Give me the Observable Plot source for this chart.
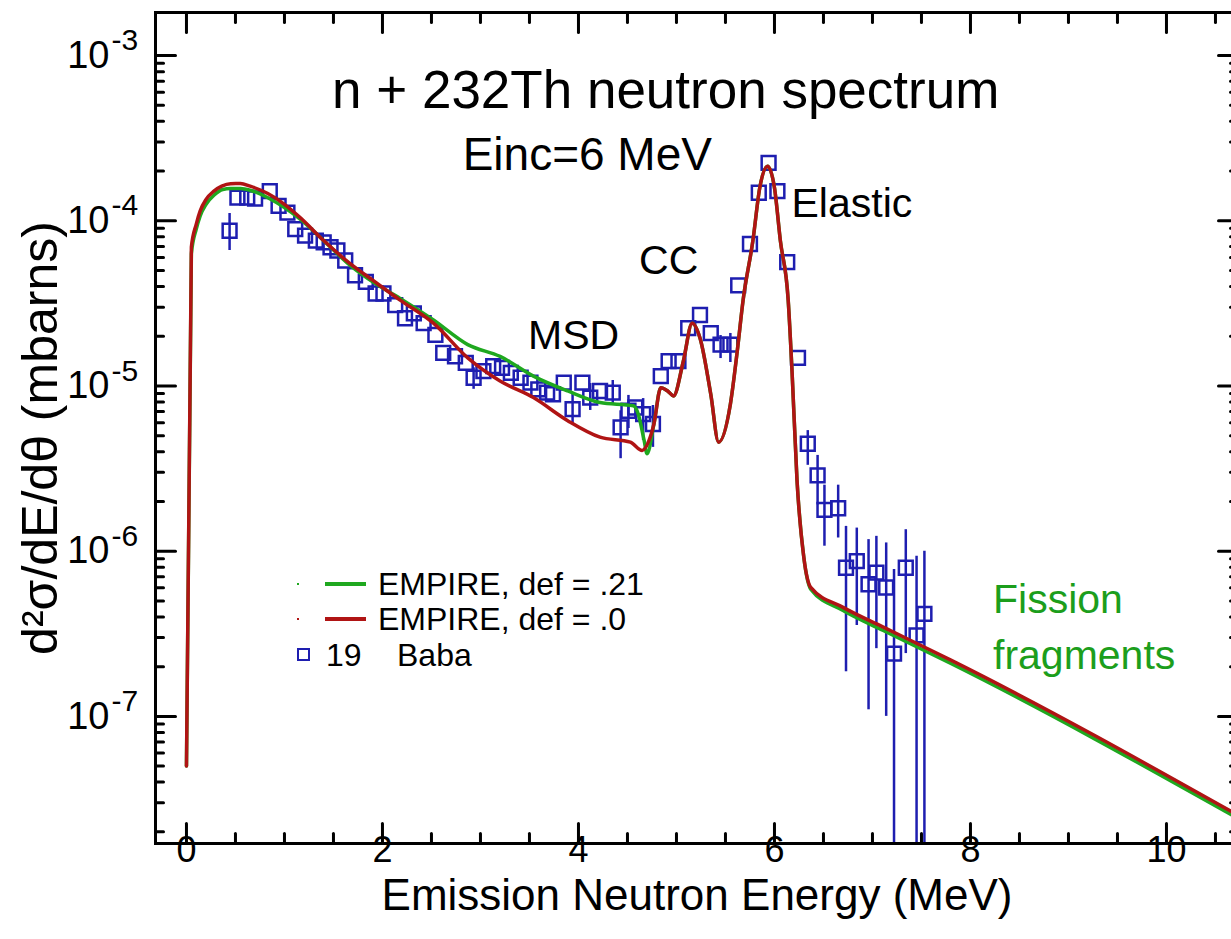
<!DOCTYPE html>
<html><head><meta charset="utf-8">
<script src="https://cdn.jsdelivr.net/npm/d3@7"></script>
<script src="https://cdn.jsdelivr.net/npm/@observablehq/plot@0.6"></script>
<style>
html,body{margin:0;padding:0;background:#fff;overflow:hidden;}
#wrap{position:relative;width:1240px;height:939px;font-family:"Liberation Sans",Arial,sans-serif;}
.lg{position:absolute;font-size:32px;color:#000;white-space:nowrap;line-height:1;}
</style></head><body><div id="wrap"></div>
<script>
// ---- data ----
const green_x = [0,0.05,0.10,0.14,0.20,0.28,0.37,0.45,0.55,0.65,0.83,1.00,1.16,1.40,1.67,1.90,2.18,2.52,2.87,3.20,3.54,3.89,4.22,4.56,4.61,4.67,4.70,4.77,4.84,4.91,4.97,5.07,5.16,5.24,5.35,5.43,5.55,5.62,5.68,5.78,5.85,5.93,6.00,6.06,6.14,6.18,6.23,6.30,6.37,6.70,7.11,7.80,10.735];
const green_y = [5.0e-8,6.31e-5,8.91e-5,1.072e-4,1.259e-4,1.429e-4,1.549e-4,1.567e-4,1.567e-4,1.531e-4,1.380e-4,1.202e-4,1.023e-4,7.59e-5,5.37e-5,4.27e-5,3.39e-5,2.51e-5,1.78e-5,1.51e-5,1.148e-5,9.33e-6,7.94e-6,7.59e-6,6.76e-6,4.68e-6,3.89e-6,5.89e-6,9.77e-6,9.33e-6,8.71e-6,1.413e-5,2.40e-5,1.95e-5,8.91e-6,4.57e-6,7.76e-6,1.62e-5,3.31e-5,7.59e-5,1.585e-4,2.14e-4,1.585e-4,7.59e-5,3.31e-5,1.202e-5,2.69e-6,9.12e-7,5.89e-7,4.37e-7,3.31e-7,2.09e-7,2.40e-8];
const red_x = [0,0.05,0.10,0.14,0.20,0.28,0.36,0.45,0.55,0.65,0.83,1.00,1.16,1.40,1.67,1.90,2.18,2.52,2.87,3.20,3.54,3.89,4.22,4.53,4.65,4.72,4.77,4.84,4.91,4.97,5.07,5.16,5.24,5.35,5.43,5.55,5.62,5.68,5.78,5.85,5.93,6.00,6.06,6.14,6.18,6.23,6.30,6.37,6.70,7.11,7.80,10.735];
const red_y = [5.0e-8,6.92e-5,9.55e-5,1.148e-4,1.349e-4,1.514e-4,1.622e-4,1.679e-4,1.68e-4,1.62e-4,1.462e-4,1.259e-4,1.047e-4,7.59e-5,5.50e-5,4.37e-5,3.31e-5,2.40e-5,1.479e-5,1.072e-5,8.51e-6,6.17e-6,4.90e-6,4.57e-6,4.07e-6,4.68e-6,5.89e-6,9.77e-6,9.33e-6,8.71e-6,1.413e-5,2.40e-5,1.95e-5,8.91e-6,4.57e-6,7.76e-6,1.62e-5,3.31e-5,7.59e-5,1.585e-4,2.14e-4,1.585e-4,7.59e-5,3.31e-5,1.202e-5,2.69e-6,9.12e-7,6.03e-7,4.57e-7,3.47e-7,2.19e-7,2.51e-8];
const baba_x = [0.44,0.52,0.62,0.70,0.85,0.94,1.03,1.11,1.21,1.32,1.40,1.47,1.54,1.62,1.72,1.83,1.93,2.01,2.13,2.23,2.32,2.42,2.54,2.62,2.74,2.85,2.93,3.03,3.13,3.22,3.31,3.41,3.51,3.59,3.68,3.74,3.85,3.94,4.04,4.12,4.22,4.35,4.43,4.51,4.58,4.66,4.76,4.84,4.92,5.02,5.12,5.24,5.35,5.45,5.55,5.63,5.75,5.84,5.94,6.03,6.13,6.24,6.34,6.44,6.51,6.65,6.73,6.84,6.96,7.04,7.14,7.22,7.34,7.45,7.53];
const baba_y = [8.71e-5,1.380e-4,1.380e-4,1.365e-4,1.514e-4,1.230e-4,1.122e-4,8.91e-5,8.13e-5,7.59e-5,7.41e-5,6.92e-5,6.61e-5,5.75e-5,4.68e-5,4.27e-5,3.63e-5,3.63e-5,3.09e-5,2.57e-5,2.75e-5,2.40e-5,2.04e-5,1.585e-5,1.514e-5,1.380e-5,1.122e-5,1.230e-5,1.318e-5,1.288e-5,1.202e-5,1.122e-5,1.047e-5,9.55e-6,9.12e-6,8.91e-6,1.047e-5,7.24e-6,1.047e-5,8.51e-6,9.33e-6,9.12e-6,5.62e-6,7.08e-6,7.41e-6,6.76e-6,5.89e-6,1.148e-5,1.413e-5,1.413e-5,2.24e-5,2.69e-5,2.09e-5,1.778e-5,1.778e-5,4.07e-5,7.24e-5,1.479e-4,2.24e-4,1.514e-4,5.62e-5,1.479e-5,4.47e-6,2.88e-6,1.778e-6,1.820e-6,7.94e-7,8.71e-7,6.31e-7,7.41e-7,6.03e-7,2.40e-7,7.94e-7,3.09e-7,4.17e-7];
const baba_lo = [6.61e-5,null,null,null,null,null,null,null,null,null,null,null,null,null,null,null,null,null,null,null,null,null,null,null,null,null,9.55e-6,null,null,null,null,null,null,null,null,null,null,5.89e-6,null,7.11e-6,null,7.62e-6,3.63e-6,5.53e-6,null,4.68e-6,4.25e-6,null,null,null,null,null,null,1.466e-5,1.387e-5,null,null,null,null,null,null,null,3.31e-6,1.905e-6,1.072e-6,1.202e-6,1.862e-7,3.55e-7,1.096e-7,2.57e-7,1.0e-7,1e-9,2.40e-7,1e-9,1e-9];
const baba_hi = [1.107e-4,null,null,null,null,null,null,null,null,null,null,null,null,null,null,null,null,null,null,null,null,null,null,null,null,null,1.288e-5,null,null,null,null,null,null,null,null,null,null,8.91e-6,null,1.035e-5,null,1.08e-5,7.08e-6,8.77e-6,null,8.39e-6,7.62e-6,null,null,null,null,null,null,2.02e-5,2.08e-5,null,null,null,null,null,null,null,5.37e-6,3.80e-6,2.51e-6,2.51e-6,1.413e-6,1.380e-6,1.175e-6,1.230e-6,1.122e-6,7.76e-7,1.349e-6,9.33e-7,1.0e-6];
const x_ticks = [0,2,4,6,8,10];
const x_minor = [0.5,1,1.5,2.5,3,3.5,4.5,5,5.5,6.5,7,7.5,8.5,9,9.5,10.5];
const y_ticks = [1e-3,1e-4,1e-5,1e-6,1e-7];
const y_minor = [];
for (let e = -8; e <= -3; e++) for (let k = 2; k <= 9; k++) { const v = k * Math.pow(10, e); if (v > 1.7e-8 && v < 1.8e-3) y_minor.push(v); }

// ---- build tables ----
const greenRows = green_x.map((x, i) => ({x, y: green_y[i]}));
const redRows = red_x.map((x, i) => ({x, y: red_y[i]}));
const babaRows = baba_x.map((x, i) => ({x, y: baba_y[i], lo: baba_lo[i], hi: baba_hi[i]}));
const errRows = babaRows.filter(d => d.lo != null);

const BLUE = "#1e1eb0", GREEN = "#1fa81f", RED = "#b01414", FGREEN = "#1c9e1c";
const tickShape = {draw(c, l) { c.moveTo(0, 0); c.lineTo(0, -l); }};
const tk = (data, opts) => Plot.vector(data, {anchor: "start", shape: tickShape, stroke: "#000", strokeWidth: 3, ...opts});

const chart = Plot.plot({
  width: 1240, height: 939,
  marginTop: 12, marginBottom: 96, marginLeft: 155, marginRight: 2,
  style: {fontFamily: "'Liberation Sans', Arial, sans-serif", background: "#fff", color: "#000"},
  x: {domain: [-0.316, 10.735], axis: null},
  y: {type: "log", domain: [1.70e-8, 1.824e-3], axis: null},
  marks: [
    Plot.ruleX(errRows, {x: "x", y1: "lo", y2: "hi", stroke: BLUE, strokeWidth: 2.5, clip: true}),
    Plot.dot(babaRows, {x: "x", y: "y", symbol: "square", r: 7.8, stroke: BLUE, strokeWidth: 2.5, fill: "none"}),
    Plot.line(greenRows, {x: "x", y: "y", stroke: GREEN, strokeWidth: 3.5, curve: "monotone-x", clip: true}),
    Plot.line(redRows, {x: "x", y: "y", stroke: RED, strokeWidth: 3.5, curve: "monotone-x", clip: true}),
    Plot.frame({stroke: "#000", strokeWidth: 3}),
    tk(x_ticks, {x: d => d, frameAnchor: "bottom", length: 20, rotate: 0}),
    tk(x_minor, {x: d => d, frameAnchor: "bottom", length: 10, rotate: 0}),
    tk(x_ticks, {x: d => d, frameAnchor: "top", length: 20, rotate: 180}),
    tk(x_minor, {x: d => d, frameAnchor: "top", length: 10, rotate: 180}),
    tk(y_ticks, {y: d => d, frameAnchor: "left", length: 20, rotate: 90}),
    tk(y_minor, {y: d => d, frameAnchor: "left", length: 8, rotate: 90}),
    tk(y_ticks, {y: d => d, frameAnchor: "right", length: 20, rotate: -90}),
    tk(y_minor, {y: d => d, frameAnchor: "right", length: 8, rotate: -90}),
    Plot.text(y_ticks, {y: d => d, frameAnchor: "left", text: () => "10", textAnchor: "end", dx: -46, fontSize: 38}),
    Plot.text(y_ticks, {y: d => d, frameAnchor: "left", text: d => String(Math.round(Math.log10(d))), textAnchor: "start", dx: -44, dy: -15, fontSize: 30}),
    Plot.text(x_ticks, {x: d => d, frameAnchor: "bottom", text: d => String(d), dy: 18, fontSize: 36}),
    Plot.text(["Emission Neutron Energy (MeV)"], {frameAnchor: "bottom", text: d => d, textAnchor: "middle", dy: 66, fontSize: 44}),
    Plot.text(["d²σ/dE/dθ (mbarns)"], {frameAnchor: "left", text: d => d, textAnchor: "middle", dx: -115, dy: 10, rotate: -90, fontSize: 50}),
    Plot.text(["n + 232Th neutron spectrum"], {x: 4.89, y: 6.14e-4, text: d => d, fontSize: 53}),
    Plot.text(["Einc=6 MeV"], {x: 4.09, y: 2.48e-4, text: d => d, fontSize: 46}),
    Plot.text(["Elastic"], {x: 6.79, y: 1.27e-4, text: d => d, fontSize: 41}),
    Plot.text(["CC"], {x: 4.92, y: 5.75e-5, text: d => d, fontSize: 41}),
    Plot.text(["MSD"], {x: 3.95, y: 2.02e-5, text: d => d, fontSize: 41}),
    Plot.text(["Fission"], {x: 8.23, y: 5.04e-7, text: d => d, textAnchor: "start", fontSize: 41, fill: FGREEN}),
    Plot.text(["fragments"], {x: 8.23, y: 2.34e-7, text: d => d, textAnchor: "start", fontSize: 41, fill: FGREEN})
  ]
});
const wrap = document.getElementById("wrap");
wrap.appendChild(chart);

// legend (HTML overlay)
const legendItems = [
  {label: "EMPIRE, def = .21", color: GREEN, kind: "line", cy: 584},
  {label: "EMPIRE, def = .0", color: RED, kind: "line", cy: 619},
  {label: "19", label2: "Baba", color: BLUE, kind: "square", cy: 655}
];
for (const it of legendItems) {
  if (it.kind === "line") {
    const dot = document.createElement("div");
    dot.style.cssText = `position:absolute;left:297px;top:${it.cy - 1}px;width:2px;height:2px;background:${it.color};`;
    wrap.appendChild(dot);
    const ln = document.createElement("div");
    ln.style.cssText = `position:absolute;left:325px;top:${it.cy - 2}px;width:41px;height:3.5px;background:${it.color};`;
    wrap.appendChild(ln);
    const t = document.createElement("div");
    t.className = "lg"; t.textContent = it.label;
    t.style.left = "378px"; t.style.top = (it.cy - 16) + "px";
    wrap.appendChild(t);
  } else {
    const sq = document.createElement("div");
    sq.style.cssText = `position:absolute;left:297px;top:${it.cy - 7}px;width:9px;height:9px;border:2.5px solid ${it.color};`;
    wrap.appendChild(sq);
    const t = document.createElement("div");
    t.className = "lg"; t.textContent = it.label;
    t.style.left = "326px"; t.style.top = (it.cy - 16) + "px";
    wrap.appendChild(t);
    const t2 = document.createElement("div");
    t2.className = "lg"; t2.textContent = it.label2;
    t2.style.left = "397px"; t2.style.top = (it.cy - 16) + "px";
    wrap.appendChild(t2);
  }
}
</script></body></html>
